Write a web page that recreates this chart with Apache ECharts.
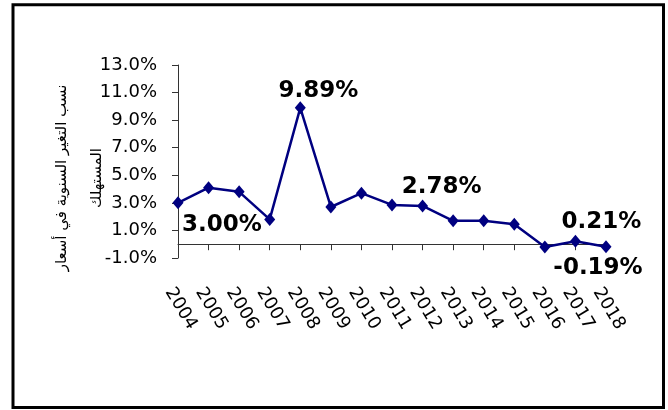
<!DOCTYPE html>
<html>
<head>
<meta charset="utf-8">
<script src="https://cdn.jsdelivr.net/npm/echarts@6/dist/echarts.min.js"></script>
<style>
html,body{margin:0;padding:0;background:#fff;}
#chart{width:668px;height:410px;}
</style>
</head>
<body>
<div id="chart"></div>
<script>
var years = ['2004','2005','2006','2007','2008','2009','2010','2011','2012','2013','2014','2015','2016','2017','2018'];
var inflation = [3.00, 4.1, 3.8, 1.8, 9.89, 2.7, 3.7, 2.85, 2.78, 1.7, 1.7, 1.45, -0.2, 0.21, -0.19];
var labelledPoints = [
  {index: 0, text: '3.00%', offset: [44, 22]},
  {index: 4, text: '9.89%', offset: [18, -17]},
  {index: 8, text: '2.78%', offset: [19, -19]},
  {index: 13, text: '0.21%', offset: [26, -19]},
  {index: 14, text: '-0.19%', offset: [-8, 21]}
];
var yTitle = 'نسب التغير السنوية في أسعار\nالمستهلك';

var seriesData = inflation.map(function (v, i) {
  var lp = labelledPoints.filter(function (p) { return p.index === i; })[0];
  if (!lp) return v;
  return {
    value: v,
    label: {
      show: true, position: 'inside', offset: lp.offset,
      formatter: lp.text,
      fontFamily: 'DejaVu Sans', fontWeight: 'bold', fontSize: 23, color: '#000'
    }
  };
});

var chart = echarts.init(document.getElementById('chart'), null, {renderer: 'canvas'});
chart.setOption({
  animation: false,
  backgroundColor: '#fff',
  grid: [
    {left: 178, right: 62, top: 65, bottom: 152},
    {left: 169, right: 71, top: 65, height: 215}
  ],
  xAxis: [
    {
      type: 'category', gridIndex: 0, data: years, boundaryGap: false,
      axisLine: {onZero: true, lineStyle: {color: '#333', width: 1}},
      axisTick: {show: true, length: 6, interval: 0, lineStyle: {color: '#333'}},
      axisLabel: {show: false},
      splitLine: {show: false}
    },
    {
      type: 'category', gridIndex: 1, data: years, boundaryGap: false,
      axisLine: {show: false}, axisTick: {show: false},
      axisLabel: {
        show: true, interval: 0, rotate: -59, margin: 9,
        fontFamily: 'DejaVu Sans', fontSize: 18, color: '#000'
      },
      splitLine: {show: false}
    }
  ],
  yAxis: [
    {
      type: 'value', gridIndex: 0, min: -1, max: 13, interval: 2,
      axisLine: {show: true, lineStyle: {color: '#333', width: 1}},
      axisTick: {show: true, length: 6, lineStyle: {color: '#333'}},
      axisLabel: {
        margin: 21, fontFamily: 'DejaVu Sans', fontSize: 18, color: '#000',
        formatter: function (v) { return v.toFixed(1) + '%'; }
      },
      splitLine: {show: false}
    },
    {
      type: 'value', gridIndex: 1, show: false, min: -1, max: 13
    }
  ],
  series: [
    {
      type: 'line', xAxisIndex: 0, yAxisIndex: 0, data: seriesData,
      symbol: 'diamond', symbolSize: [11, 13],
      lineStyle: {color: '#000080', width: 2.5},
      itemStyle: {color: '#000080'},
      label: {show: false}
    }
  ],
  graphic: [
    {
      type: 'rect', silent: true,
      shape: {x: 13, y: 4.7, width: 650.5, height: 402.8},
      style: {fill: 'none', stroke: '#000', lineWidth: 3}
    },
    {
      type: 'text', silent: true,
      x: 79.5, y: 178, rotation: Math.PI / 2,
      style: {
        text: yTitle, fill: '#000', font: '15px "DejaVu Sans"',
        align: 'center', verticalAlign: 'middle', lineHeight: 35
      }
    }
  ]
});
</script>
</body>
</html>
